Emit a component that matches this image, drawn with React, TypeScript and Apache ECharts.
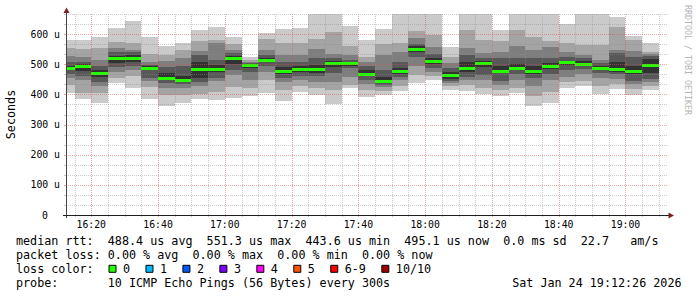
import React, { useEffect, useRef } from 'react';
import * as echarts from 'echarts';

// ---- data ----
const stepStarts = [
  '16:10', '16:15', '16:20', '16:25', '16:30', '16:35', '16:40', '16:45', '16:50', '16:55',
  '17:00', '17:05', '17:10', '17:15', '17:20', '17:25', '17:30', '17:35', '17:40', '17:45',
  '17:50', '17:55', '18:00', '18:05', '18:10', '18:15', '18:20', '18:25', '18:30', '18:35',
  '18:40', '18:45', '18:50', '18:55', '19:00', '19:05',
];
const stepMinutes = 5;

// 10 sorted ping rtts per step (microseconds)
const pings: number[][] = [
  [405, 432, 455, 468, 482, 495, 508, 528, 555, 581],
  [384, 404, 448, 462, 478, 501, 508, 525, 552, 581],
  [372, 404, 428, 442, 458, 482, 495, 515, 555, 591],
  [438, 453, 475, 492, 503, 528, 540, 553, 575, 619],
  [421, 462, 482, 493, 508, 531, 539, 548, 570, 642],
  [384, 425, 445, 455, 482, 493, 498, 508, 535, 592],
  [362, 399, 422, 438, 447, 472, 492, 510, 531, 559],
  [373, 399, 422, 435, 442, 462, 495, 520, 548, 572],
  [384, 402, 428, 442, 455, 508, 531, 545, 576, 614],
  [380, 409, 445, 455, 475, 498, 515, 570, 581, 623],
  [389, 425, 465, 482, 501, 526, 537, 548, 567, 592],
  [396, 422, 448, 475, 488, 500, 503, 508, 515, 524],
  [405, 448, 475, 495, 508, 521, 531, 548, 584, 603],
  [377, 415, 442, 455, 468, 492, 508, 531, 571, 617],
  [409, 428, 448, 462, 475, 495, 508, 531, 572, 619],
  [399, 422, 442, 462, 472, 498, 521, 551, 585, 700],
  [369, 415, 442, 472, 492, 511, 521, 535, 608, 700],
  [420, 432, 458, 488, 495, 508, 515, 531, 559, 628],
  [392, 415, 435, 448, 462, 482, 495, 508, 525, 579],
  [399, 412, 425, 432, 438, 458, 482, 531, 568, 618],
  [410, 428, 448, 458, 468, 488, 508, 541, 571, 700],
  [438, 465, 495, 525, 541, 560, 568, 586, 609, 700],
  [447, 462, 475, 488, 501, 521, 535, 558, 598, 700],
  [414, 428, 438, 445, 452, 475, 488, 505, 525, 558],
  [410, 432, 448, 458, 475, 508, 531, 555, 613, 700],
  [402, 422, 448, 464, 492, 511, 521, 536, 581, 700],
  [396, 415, 432, 443, 472, 495, 521, 542, 576, 612],
  [406, 422, 448, 468, 482, 501, 520, 561, 612, 700],
  [362, 395, 428, 455, 468, 495, 521, 546, 592, 700],
  [373, 409, 448, 468, 485, 505, 521, 556, 576, 700],
  [422, 442, 458, 482, 498, 511, 525, 541, 569, 632],
  [428, 445, 468, 485, 495, 511, 521, 531, 565, 700],
  [402, 428, 455, 472, 482, 495, 505, 514, 565, 700],
  [417, 435, 452, 468, 475, 508, 536, 547, 625, 658],
  [397, 419, 435, 443, 468, 495, 525, 545, 580, 594],
  [414, 428, 442, 452, 472, 518, 528, 535, 541, 572],
];

const medians = [
  487, 493, 472, 520, 522, 488, 453, 448, 485, 484,
  521, 496, 515, 478, 484, 484, 503, 503, 469, 444,
  476, 551, 511, 463, 487, 503, 478, 489, 476, 494,
  506, 501, 487, 484, 479, 496,
];

const viewStart = '16:12:26';
const viewEnd = '19:12:26';
const xTickLabels = ['16:20', '16:40', '17:00', '17:20', '17:40', '18:00', '18:20', '18:40', '19:00'];
const yMax = 666.67;
const yMajor = 100;

const lossLabels = ['0', '1', '2', '3', '4', '5', '6-9', '10/10'];
const lossColors = ['#26ff00', '#00b8ff', '#0059ff', '#7e00ff', '#ff00ff', '#ff5500', '#ff0000', '#a10000'];

const line1 = 'median rtt:  488.4 us avg  551.3 us max  443.6 us min  495.1 us now  0.0 ms sd  22.7   am/s';
const line2 = 'packet loss: 0.00 % avg  0.00 % max  0.00 % min  0.00 % now';
const line3 = 'loss color:';
const line4 = 'probe:       10 ICMP Echo Pings (56 Bytes) every 300s';
const dateText = 'Sat Jan 24 19:12:26 2026';

// ---- styles ----
const FONT = "'DejaVu Sans Mono', monospace";
const FS = 11.73;
const CW = 7.06;
const AXFS = 9.8;
const shades = ['#cacaca', '#a4a4a4', '#7e7e7e', '#585858', '#323232'];
const MINOR = 'rgba(143,143,143,0.45)';
const MAJOR = 'rgba(222,79,79,0.5)';
const AXIS = '#1f1f1f';
const ARROW = '#801f1f';

const toMin = (s: string) => {
  const p = s.split(':').map(Number);
  return p[0] * 60 + p[1] + (p[2] || 0) / 60;
};
const fmtTime = (v: number) => {
  const h = Math.floor(v / 60);
  const m = Math.round(v - h * 60);
  return `${String(h).padStart(2, '0')}:${String(m).padStart(2, '0')}`;
};

function tokenTexts(line: string, x0: number, y: number) {
  const out: any[] = [];
  const re = /\S+/g;
  let m: RegExpExecArray | null;
  while ((m = re.exec(line))) {
    out.push({
      type: 'text', x: x0 + m.index * CW, y, silent: true,
      style: { text: m[0], fontFamily: FONT, fontSize: FS, fill: '#000', align: 'left', verticalAlign: 'middle' },
    });
  }
  return out;
}

export default function App() {
  const ref = useRef<HTMLDivElement>(null);
  useEffect(() => {
    const chart = echarts.init(ref.current!, null, { renderer: 'svg' });
    const tMin = toMin(viewStart);
    const tMax = toMin(viewEnd);

    const smokeData = stepStarts.map((s, i) => {
      const t0 = toMin(s);
      return [t0, t0 + stepMinutes, ...pings[i], medians[i]];
    });

    const gridData: number[][] = [];
    const firstTick = toMin(stepStarts[1]);
    for (let t = firstTick; t < tMax; t += stepMinutes) gridData.push([0, t, t % 20 === 0 ? 1 : 0]);
    for (let k = 1; k * yMajor / 3 <= yMax + 0.01; k++) gridData.push([1, (k * yMajor) / 3, k % 3 === 0 ? 1 : 0]);

    const legendY = [241, 254.9, 268.8, 282.7];
    const graphics: any[] = [];
    graphics.push(...tokenTexts(line1, 16, legendY[0]));
    graphics.push(...tokenTexts(line2, 16, legendY[1]));
    graphics.push(...tokenTexts(line3, 16, legendY[2]));
    graphics.push(...tokenTexts(line4, 16, legendY[3]));
    graphics.push({
      type: 'text', x: 681.5, y: legendY[3], silent: true,
      style: { text: dateText, fontFamily: FONT, fontSize: FS, fill: '#000', align: 'right', verticalAlign: 'middle' },
    });
    let bx = 108.5;
    lossLabels.forEach((lab, i) => {
      graphics.push({
        type: 'rect', silent: true,
        shape: { x: bx + 0.5, y: legendY[2] - 3.5, width: 7, height: 7 },
        style: { fill: lossColors[i], stroke: '#000', lineWidth: 1 },
      });
      graphics.push({
        type: 'text', x: bx + 14.5, y: legendY[2], silent: true,
        style: { text: lab, fontFamily: FONT, fontSize: FS, fill: '#000', align: 'left', verticalAlign: 'middle' },
      });
      bx = bx + 14.5 + lab.length * CW + 15.4;
    });
    // axis title & watermark
    graphics.push({
      type: 'text', x: 10.5, y: 114.5, rotation: Math.PI / 2, silent: true,
      style: { text: 'Seconds', fontFamily: FONT, fontSize: FS, fill: '#000', align: 'center', verticalAlign: 'middle' },
    });
    graphics.push({
      type: 'text', x: 687.5, y: 60, rotation: -Math.PI / 2, silent: true,
      style: { text: 'RRDTOOL / TOBI OETIKER', fontFamily: FONT, fontSize: 8.3, fill: '#b4b4b4', align: 'center', verticalAlign: 'middle' },
    });
    // axis lines and arrows
    graphics.push({ type: 'line', silent: true, z: 10, shape: { x1: 66.5, y1: 218, x2: 66.5, y2: 11 }, style: { stroke: '#444', lineWidth: 1 } });
    graphics.push({ type: 'line', silent: true, z: 10, shape: { x1: 63, y1: 215.5, x2: 670, y2: 215.5 }, style: { stroke: AXIS, lineWidth: 1 } });
    graphics.push({ type: 'polygon', silent: true, z: 10, shape: { points: [[63.5, 13], [69.5, 13], [66.5, 7.5]] }, style: { fill: ARROW } });
    graphics.push({ type: 'polygon', silent: true, z: 10, shape: { points: [[668.5, 212.5], [668.5, 218.5], [674, 215.5]] }, style: { fill: ARROW } });

    const option: any = {
      animation: false,
      backgroundColor: '#ffffff',
      grid: { left: 66, top: 14, width: 601, height: 201, outerBoundsMode: 'none', containLabel: false },
      xAxis: {
        type: 'value', min: tMin, max: tMax,
        axisLine: { show: false }, axisTick: { show: false }, splitLine: { show: false },
        axisLabel: {
          customValues: xTickLabels.map(toMin),
          formatter: (v: number) => fmtTime(v),
          fontFamily: FONT, fontSize: AXFS, color: '#000', margin: 4,
        },
      },
      yAxis: {
        type: 'value', min: 0, max: yMax, interval: yMajor,
        axisLine: { show: false }, axisTick: { show: false }, splitLine: { show: false },
        axisLabel: {
          formatter: (v: number) => {
            if (Math.abs(v % yMajor) > 0.01) return '';
            return v === 0 ? '{z|0}' : `${v} u`;
          },
          rich: { z: { fontFamily: FONT, fontSize: AXFS, color: '#000', padding: [0, 12, 0, 0] } },
          fontFamily: FONT, fontSize: AXFS, color: '#000', margin: 6,
        },
      },
      graphic: graphics,
      series: [
        {
          type: 'custom', z: 2, silent: true,
          data: smokeData,
          renderItem: (params: any, api: any) => {
            const cs = params.coordSys;
            const xa = Math.round(api.coord([api.value(0), 0])[0]);
            const xb = Math.round(api.coord([api.value(1), 0])[0]);
            const clipR = { x: cs.x, y: cs.y, width: cs.width, height: cs.height };
            const children: any[] = [];
            for (let k = 0; k < 5; k++) {
              const lo = api.value(2 + k);
              const hi = api.value(11 - k);
              const ya = Math.round(api.coord([0, hi])[1]);
              const yb = Math.round(api.coord([0, lo])[1]);
              const shape = echarts.graphic.clipRectByRect({ x: xa, y: ya, width: xb - xa, height: yb - ya }, clipR);
              if (shape) children.push({ type: 'rect', shape, style: { fill: shades[k] } });
            }
            const ym = Math.round(api.coord([0, api.value(12)])[1]);
            const ms = echarts.graphic.clipRectByRect({ x: xa, y: ym - 1, width: xb - xa, height: 3 }, clipR);
            if (ms) children.push({ type: 'rect', shape: ms, style: { fill: lossColors[0] } });
            return { type: 'group', children };
          },
        },
        {
          type: 'custom', z: 5, silent: true,
          data: gridData,
          renderItem: (params: any, api: any) => {
            const cs = params.coordSys;
            const orient = api.value(0);
            const v = api.value(1);
            const color = api.value(2) ? MAJOR : MINOR;
            if (orient === 0) {
              const x = Math.round(api.coord([v, 0])[0]) + 0.5;
              const yb = cs.y + cs.height;
              return {
                type: 'group', children: [
                  { type: 'line', shape: { x1: x, y1: cs.y, x2: x, y2: yb }, style: { stroke: color, lineWidth: 1, lineDash: [1, 1] } },
                  { type: 'line', shape: { x1: x, y1: yb, x2: x, y2: yb + 2 }, style: { stroke: color, lineWidth: 1 } },
                ],
              };
            }
            const y = Math.round(api.coord([0, v])[1]) + 0.5;
            return {
              type: 'group', children: [
                { type: 'line', shape: { x1: cs.x, y1: y, x2: cs.x + cs.width, y2: y }, style: { stroke: color, lineWidth: 1, lineDash: [1, 1] } },
                { type: 'line', shape: { x1: cs.x - 2, y1: y, x2: cs.x, y2: y }, style: { stroke: color, lineWidth: 1 } },
              ],
            };
          },
        },
      ],
    };
    chart.setOption(option);
    return () => chart.dispose();
  }, []);
  return <div ref={ref} style={{ position: 'fixed', left: 0, top: 0, width: 697, height: 297, background: '#fff' }} />;
}
